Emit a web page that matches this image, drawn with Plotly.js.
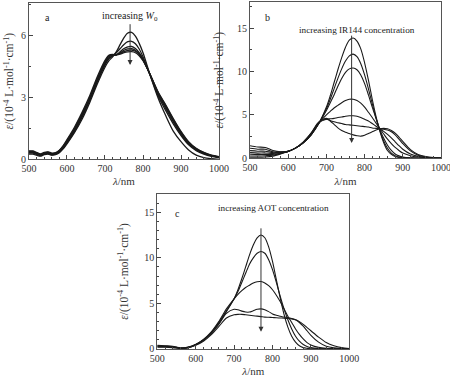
<!DOCTYPE html>
<html>
<head>
<meta charset="utf-8">
<script src="https://cdn.plot.ly/plotly-3.0.1.min.js"></script>
<style>html,body{margin:0;padding:0;background:#fff;}#chart{width:450px;height:379px;}</style>
</head>
<body>
<div id="chart"></div>
<script>
// ---- Panel a (increasing W0) ----
const lamA = [500,510,520,530,540,550,560,570,580,590,600,620,640,660,680,700,710,720,730,740,750,760,770,780,790,800,820,840,860,880,900,920,940,960,980,1000];
const a1 = [0.25,0.25,0.2,0.15,0.22,0.25,0.2,0.22,0.32,0.5,0.75,1.3,1.95,2.75,3.65,4.45,4.75,4.95,5.2,5.55,5.88,6.1,6.13,5.95,5.6,5.15,4.0,2.95,2.1,1.35,0.85,0.45,0.2,0.08,0.03,0.0];
const a2 = [0.3,0.3,0.24,0.18,0.25,0.28,0.22,0.25,0.36,0.55,0.8,1.35,2.05,2.85,3.75,4.55,4.85,5.0,5.15,5.35,5.55,5.68,5.7,5.58,5.33,4.95,4.0,3.05,2.35,1.7,1.15,0.7,0.42,0.25,0.14,0.08];
const a3 = [0.33,0.33,0.27,0.2,0.27,0.3,0.24,0.27,0.38,0.58,0.83,1.4,2.1,2.9,3.8,4.6,4.9,5.0,5.05,5.2,5.35,5.43,5.45,5.35,5.15,4.85,4.02,3.12,2.45,1.8,1.22,0.75,0.46,0.28,0.16,0.1];
const a4 = [0.36,0.36,0.29,0.22,0.29,0.32,0.26,0.29,0.4,0.6,0.86,1.45,2.15,2.95,3.85,4.65,4.95,5.03,5.05,5.15,5.27,5.33,5.35,5.27,5.1,4.82,4.03,3.18,2.52,1.86,1.27,0.79,0.49,0.3,0.18,0.11];
const a5 = [0.38,0.38,0.31,0.24,0.31,0.34,0.28,0.3,0.42,0.63,0.9,1.5,2.2,3.0,3.92,4.7,5.0,5.05,5.05,5.12,5.2,5.26,5.28,5.22,5.06,4.8,4.05,3.22,2.58,1.92,1.31,0.82,0.51,0.32,0.19,0.12];
const a6 = [0.4,0.4,0.33,0.26,0.33,0.36,0.3,0.32,0.44,0.66,0.95,1.56,2.28,3.08,4.0,4.78,5.03,5.07,5.05,5.08,5.15,5.19,5.2,5.15,5.0,4.76,4.05,3.25,2.62,1.96,1.35,0.85,0.53,0.33,0.2,0.13];

// ---- Panel b (increasing IR144 concentration) ----
const lamB = [500,520,540,560,580,600,620,640,660,680,700,710,720,730,740,750,760,770,780,790,800,810,820,830,840,850,860,870,880,890,900,920,940,960,980,1000];
const b1 = [0.12,0.12,0.15,0.25,0.5,0.8,1.2,1.8,2.7,4.0,5.9,7.2,8.7,10.2,11.6,12.8,13.6,13.85,13.5,12.6,11.0,9.0,6.8,4.8,3.1,1.8,0.9,0.45,0.2,0.1,0.05,0.02,0,0,0,0];
const b2 = [0.27,0.27,0.3,0.35,0.55,0.8,1.2,1.8,2.7,4.0,5.7,6.8,8.0,9.2,10.3,11.2,11.8,12.0,11.7,10.9,9.6,8.0,6.3,4.6,3.2,2.0,1.15,0.6,0.3,0.15,0.08,0.03,0.01,0,0,0];
const b3 = [0.46,0.43,0.45,0.45,0.6,0.8,1.2,1.8,2.7,4.0,5.5,6.4,7.3,8.3,9.2,9.9,10.3,10.4,10.2,9.6,8.6,7.3,5.9,4.6,3.3,2.3,1.5,0.9,0.5,0.28,0.15,0.05,0.02,0.01,0,0];
const b4 = [0.65,0.6,0.62,0.55,0.65,0.8,1.2,1.8,2.75,4.05,5.0,5.4,5.8,6.1,6.4,6.65,6.8,6.8,6.65,6.35,5.9,5.3,4.7,4.05,3.4,2.8,2.2,1.7,1.25,0.9,0.6,0.3,0.15,0.07,0.03,0.01];
const b5 = [0.88,0.82,0.82,0.65,0.7,0.8,1.2,1.85,2.8,4.1,4.5,4.55,4.6,4.7,4.75,4.85,4.9,4.9,4.85,4.7,4.5,4.3,4.0,3.7,3.4,3.1,2.75,2.35,1.9,1.45,1.05,0.5,0.22,0.1,0.04,0.02];
const b6 = [1.15,1.05,1.05,0.75,0.72,0.8,1.2,1.9,2.9,4.2,4.5,4.35,4.2,4.1,4.0,3.9,3.85,3.8,3.75,3.7,3.65,3.6,3.5,3.45,3.4,3.35,3.25,3.05,2.7,2.2,1.7,0.85,0.35,0.15,0.06,0.03];
const b7 = [1.45,1.3,1.25,0.9,0.75,0.8,1.2,1.9,2.9,4.1,4.6,4.3,3.9,3.5,3.2,3.0,2.85,2.7,2.6,2.55,2.65,2.85,3.05,3.25,3.4,3.45,3.4,3.2,2.9,2.45,1.95,1.0,0.45,0.2,0.08,0.04];

// ---- Panel c (increasing AOT concentration) ----
const lamC = [500,520,540,560,580,600,620,640,660,680,700,710,720,730,740,750,760,770,780,790,800,810,820,830,840,850,860,870,880,890,900,920,940,960,980,1000];
const c1 = [0.3,0.3,0.25,0.1,0.2,0.5,1.0,1.7,2.8,4.1,5.5,6.5,7.7,9.0,10.3,11.4,12.2,12.5,12.2,11.2,9.6,7.6,5.6,3.8,2.4,1.4,0.75,0.35,0.15,0.07,0.03,0.01,0,0,0,0];
const c2 = [0.25,0.25,0.2,0.08,0.18,0.5,1.0,1.75,2.9,4.2,5.5,6.3,7.3,8.3,9.3,10.0,10.5,10.7,10.5,9.8,8.7,7.3,5.8,4.4,3.2,2.2,1.4,0.85,0.5,0.28,0.15,0.05,0.02,0.01,0,0];
const c3 = [0.2,0.2,0.15,0.05,0.15,0.5,1.05,1.85,3.0,4.4,5.5,6.0,6.4,6.75,7.0,7.25,7.38,7.4,7.25,6.95,6.5,5.9,5.2,4.4,3.6,2.9,2.2,1.6,1.1,0.7,0.45,0.18,0.07,0.03,0.01,0];
const c4 = [0.35,0.3,0.25,0.1,0.15,0.45,0.95,1.7,2.7,3.9,4.35,4.3,4.15,4.05,4.05,4.2,4.35,4.4,4.3,4.1,3.85,3.7,3.6,3.5,3.45,3.35,3.2,2.9,2.5,2.0,1.5,0.75,0.3,0.12,0.05,0.02];
const c5 = [0.4,0.35,0.3,0.12,0.15,0.4,0.85,1.55,2.45,3.4,3.75,3.8,3.8,3.75,3.7,3.65,3.6,3.55,3.5,3.48,3.45,3.42,3.4,3.38,3.35,3.3,3.2,3.0,2.7,2.35,2.0,1.3,0.7,0.35,0.15,0.06];

const xTicks = [500,600,700,800,900,1000];

const lineStyle = {color:'#1a1a1a', width:1.1, shape:'spline', smoothing:0.8};
function tr(x, y, xa, ya, w){ return {x:x, y:y, xaxis:xa, yaxis:ya, type:'scatter', mode:'lines', line:Object.assign({}, lineStyle, w ? {width:w} : {}), hoverinfo:'skip', showlegend:false}; }

const data = [];
[a1,a2,a3,a4,a5,a6].forEach(s => data.push(tr(lamA, s, 'x', 'y', 1.3)));
[b1,b2,b3,b4,b5,b6,b7].forEach(s => data.push(tr(lamB, s, 'x2', 'y2')));
[c1,c2,c3,c4,c5].forEach(s => data.push(tr(lamC, s, 'x3', 'y3')));

const FONT = 'Liberation Serif, Times New Roman, serif';
const ytitle = '<i>ε</i>/(10<sup>-4</sup> L·mol<sup>-1</sup>·cm<sup>-1</sup>)';
const xtitle = '<i>λ</i>/nm';

function xaxisDef(domain, anchor){
  return {domain:domain, anchor:anchor, range:[500,1000], tickvals:xTicks, ticks:'inside', ticklen:4, tickcolor:'#444',
    minor:{dtick:20, tick0:500, ticks:'inside', ticklen:2, tickcolor:'#444'},
    showline:true, mirror:true, linecolor:'#555', linewidth:1, showgrid:false, zeroline:false,
    ticklabeloverflow:'allow',
    tickfont:{family:FONT, size:10, color:'#333'},
    title:{text:xtitle, font:{family:FONT, size:11, color:'#333'}, standoff:4}};
}
function yaxisDef(domain, anchor, range, dtick, minor, standoff){
  return {domain:domain, anchor:anchor, range:range, dtick:dtick, tick0:0, ticks:'inside', ticklen:4, tickcolor:'#444',
    minor:{dtick:minor, tick0:0, ticks:'inside', ticklen:2, tickcolor:'#444'},
    showline:true, mirror:true, linecolor:'#555', linewidth:1, showgrid:false, zeroline:false,
    tickfont:{family:FONT, size:10, color:'#333'},
    title:{text:ytitle, font:{family:FONT, size:11.5, color:'#333'}, standoff:standoff}};
}

const txtFont = {family:FONT, size:10, color:'#222'};
const txtFontS = {family:FONT, size:9.2, color:'#222'};
function arrow(xr, yr, x, y0, y1){
  return {xref:xr, yref:yr, axref:xr, ayref:yr, x:x, y:y1, ax:x, ay:y0, text:'', showarrow:true,
    arrowhead:2, arrowsize:1, arrowwidth:1, arrowcolor:'#333'};
}

const layout = {
  width:450, height:379, margin:{l:0, r:0, t:0, b:0}, paper_bgcolor:'#fff', plot_bgcolor:'#fff',
  showlegend:false,
  xaxis: xaxisDef([0.0644,0.4867], 'y'),
  yaxis: yaxisDef([0.5797,0.992], 'x', [0,7.55], 3, 1.5, 4),
  xaxis2: xaxisDef([0.5556,0.98], 'y2'),
  yaxis2: yaxisDef([0.5823,0.9947], 'x2', [0,18], 5, 2.5, 10),
  xaxis3: xaxisDef([0.3496,0.7762], 'y3'),
  yaxis3: yaxisDef([0.0792,0.4881], 'x3', [0,17], 5, 1, 13),
  annotations: [
    {xref:'x', yref:'y', x:550, y:6.87, text:'a', showarrow:false, font:txtFont},
    {xref:'x', yref:'y', x:766, y:6.9, text:'increasing <i>W</i><sub>0</sub>', showarrow:false, font:txtFont},
    arrow('x','y',766,6.6,4.55),
    {xref:'x2', yref:'y2', x:547, y:16.2, text:'b', showarrow:false, font:txtFont},
    {xref:'x2', yref:'y2', x:779, y:14.8, text:'increasing IR144 concentration', showarrow:false, font:txtFontS},
    arrow('x2','y2',766,14.3,1.75),
    {xref:'x3', yref:'y3', x:552, y:14.9, text:'c', showarrow:false, font:txtFont},
    {xref:'x3', yref:'y3', x:802, y:15.5, text:'increasing AOT concentration', showarrow:false, font:txtFontS},
    arrow('x3','y3',770,13.4,1.9)
  ]
};

Plotly.newPlot('chart', data, layout, {staticPlot:true, displayModeBar:false});
</script>
</body>
</html>
